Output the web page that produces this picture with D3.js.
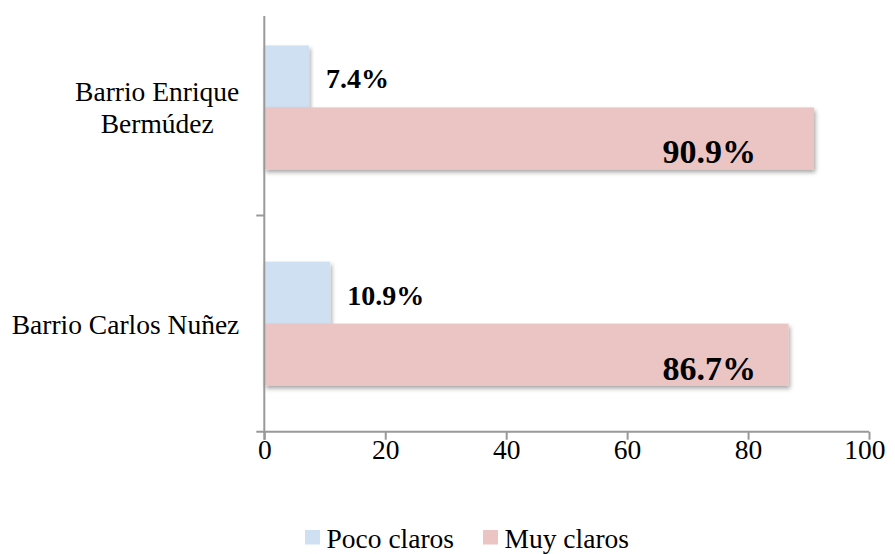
<!DOCTYPE html>
<html><head><meta charset="utf-8">
<script src="https://cdn.jsdelivr.net/npm/d3@7"></script>
<style>
html,body{margin:0;padding:0;background:#fff;}
svg{display:block;font-family:"Liberation Serif","Times New Roman",serif;}
</style></head>
<body>
<svg id="chart" width="895" height="554"></svg>
<script>
const categories = ["Barrio Enrique Bermúdez", "Barrio Carlos Nuñez"];
const categoryLines = [["Barrio Enrique", "Bermúdez"], ["Barrio Carlos Nuñez"]];
const seriesNames = ["Poco claros", "Muy claros"];
const pocoClaros = [7.4, 10.9];
const muyClaros = [90.9, 86.7];
const xTicks = [0, 20, 40, 60, 80, 100];
const colors = ["#CFE0F2", "#EBC4C4"];

const W = 895;
const svg = d3.select("#chart");
const x = d3.scaleLinear().domain([0, 100]).range([264.3, 869]);
const y0 = d3.scaleBand().domain(categories).range([-0.7, 431.7]).padding(0);
const y1 = d3.scaleBand().domain(seriesNames).range([0, y0.bandwidth()]).paddingInner(0).paddingOuter(0.745);

const defs = svg.append("defs");
const f = defs.append("filter").attr("id","shadow").attr("x","-5%").attr("y","-20%").attr("width","115%").attr("height","150%");
f.append("feDropShadow").attr("dx",1.5).attr("dy",3).attr("stdDeviation",2).attr("flood-color","#000").attr("flood-opacity",0.35);

const data = [];
categories.forEach((c, i) => {
  data.push({cat: c, s: seriesNames[0], v: pocoClaros[i], k: 0});
  data.push({cat: c, s: seriesNames[1], v: muyClaros[i], k: 1});
});

const bars = svg.append("g");
bars.selectAll("rect").data(data).join("rect")
  .attr("x", x(0))
  .attr("y", d => y0(d.cat) + y1(d.s))
  .attr("width", d => x(d.v) - x(0))
  .attr("height", y1.bandwidth())
  .attr("fill", d => colors[d.k])
  .attr("filter", "url(#shadow)");

// x axis
const xAxis = svg.append("g").attr("transform", `translate(0,${y0.range()[1]})`)
  .call(d3.axisBottom(x).tickValues(xTicks).tickSize(8).tickSizeOuter(0));
xAxis.select(".domain").attr("stroke", "#999").attr("stroke-width", 2).attr("d", `M${x(0)-8},0H${x(100)}`);
xAxis.selectAll(".tick line").attr("stroke", "#999").attr("stroke-width", 2);
xAxis.selectAll(".tick text").attr("fill", "#000").attr("font-size", 27.5)
  .attr("font-family", "Liberation Serif").attr("y", 27).attr("dy", 0)
  .each(function(d) {
    // keep labels inside the picture
    const w = this.getComputedTextLength();
    const right = x(d) + w/2;
    if (right > W - 10) d3.select(this).attr("x", (W - 10) - right);
  });

// y axis
const yAxis = svg.append("g").attr("transform", `translate(${x(0)},0)`);
yAxis.append("line").attr("x1",0).attr("x2",0).attr("y1",16).attr("y2",y0.range()[1]+8)
  .attr("stroke","#999").attr("stroke-width",2);
yAxis.append("line").attr("x1",-8).attr("x2",0)
  .attr("y1", y0(categories[1])).attr("y2", y0(categories[1]))
  .attr("stroke","#999").attr("stroke-width",2);

// category labels
const labelRight = x(0) - 25;
categories.forEach((c, i) => {
  const lines = categoryLines[i];
  const cy = y0(c) + y0.bandwidth()/2;
  const lh = 32;
  const t = svg.append("text").attr("text-anchor","middle").attr("font-size",27.5).attr("fill","#000");
  const spans = lines.map((l, j) => t.append("tspan")
    .attr("y", cy + 10 + (j - (lines.length-1)/2)*lh).text(l));
  const maxW = d3.max(spans, s => s.node().getComputedTextLength());
  spans.forEach(s => s.attr("x", labelRight - maxW/2));
});

// value labels
const bigLabelPos = 73.6;
const lab = svg.append("g").attr("font-weight","bold").attr("fill","#000");
data.forEach(d => {
  if (d.k === 0) {
    lab.append("text").attr("x", x(d.v) + 17).attr("y", y0(d.cat) + y1(d.s) + y1.bandwidth()/2 + 12)
      .attr("font-size", 28).text(d.v.toFixed(1) + "%");
  } else {
    lab.append("text").attr("text-anchor","middle").attr("x", x(bigLabelPos)).attr("y", y0(d.cat) + y1(d.s) + y1.bandwidth() - 6)
      .attr("font-size", 34).text(d.v.toFixed(1) + "%");
  }
});

// legend
const leg = svg.append("g").attr("transform","translate(305,530)");
const li = leg.selectAll("g").data(seriesNames).join("g")
  .attr("transform", (d,i) => `translate(${i===0?0:178},0)`);
li.append("rect").attr("width",15).attr("height",14.5).attr("fill",(d,i)=>colors[i]);
li.append("text").attr("x",21.5).attr("y",17.7).attr("font-size",27.5).attr("fill","#000").text(d=>d);
</script>
</body></html>
